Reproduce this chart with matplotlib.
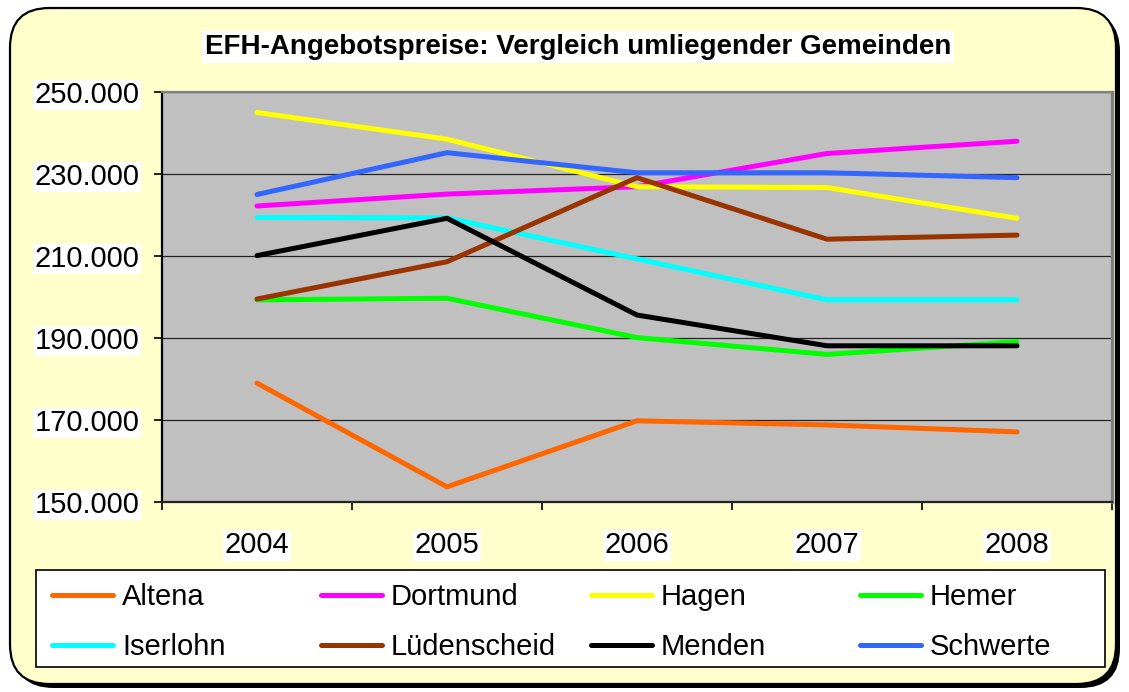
import matplotlib
matplotlib.use("Agg")
import matplotlib.pyplot as plt
from matplotlib.patches import FancyBboxPatch, Rectangle

plt.rcParams["font.family"] = ["Liberation Sans", "DejaVu Sans"]

YEARS = ["2004", "2005", "2006", "2007", "2008"]
TITLE = "EFH-Angebotspreise: Vergleich umliegender Gemeinden"

# Angebotspreise in Euro
altena = [179000, 153700, 169800, 168800, 167100]
dortmund = [222200, 225100, 226900, 235000, 238000]
hagen = [245000, 238500, 226900, 226700, 219200]
hemer = [199300, 199700, 190100, 186000, 189100]
iserlohn = [219400, 219300, 209300, 199300, 199300]
luedenscheid = [199500, 208600, 229100, 214100, 215100]
menden = [210100, 219200, 195600, 188100, 188100]
schwerte = [225000, 235200, 230300, 230300, 229100]

SERIES = [
    ("Altena", altena, "#FF6600"),
    ("Dortmund", dortmund, "#FF00FF"),
    ("Hagen", hagen, "#FFFF00"),
    ("Hemer", hemer, "#00FF00"),
    ("Iserlohn", iserlohn, "#00FFFF"),
    ("Lüdenscheid", luedenscheid, "#993300"),
    ("Menden", menden, "#000000"),
    ("Schwerte", schwerte, "#3366FF"),
]

Y_TICKS = [150000, 170000, 190000, 210000, 230000, 250000]

W, H = 1129, 692


def main():
    fig = plt.figure(figsize=(W / 100, H / 100), dpi=100, facecolor="white")

    # rounded chart frame with a drop shadow
    shadow = FancyBboxPatch((14 / W, 4 / H), 1106 / W, 676 / H,
                            boxstyle="round,pad=0,rounding_size=0.035",
                            transform=fig.transFigure, facecolor="black",
                            edgecolor="black", lw=0, mutation_aspect=W / H,
                            zorder=-3)
    frame = FancyBboxPatch((10 / W, 8 / H), 1106 / W, 676 / H,
                           boxstyle="round,pad=0,rounding_size=0.035",
                           transform=fig.transFigure, facecolor="#FFFFCC",
                           edgecolor="black", lw=1.6, mutation_aspect=W / H,
                           zorder=-2)
    fig.patches.extend([shadow, frame])

    ax = fig.add_axes([162 / W, 190 / H, 950 / W, 410 / H])
    ax.set_facecolor("#C0C0C0")

    x = range(len(YEARS))
    handles = []
    for name, vals, color in SERIES:
        (ln,) = ax.plot(x, vals, color=color, lw=3.6, label=name,
                        solid_capstyle="round", solid_joinstyle="round", zorder=3)
        handles.append(ln)

    ax.set_xlim(-0.5, len(YEARS) - 0.5)
    ax.set_ylim(Y_TICKS[0], Y_TICKS[-1])

    ax.set_yticks(Y_TICKS)
    ax.set_yticklabels([f"{v:,}".replace(",", ".") for v in Y_TICKS])
    ax.yaxis.grid(True, color="#222222", lw=0.9, zorder=1)
    ax.set_axisbelow(True)

    ax.set_xticks([i - 0.5 for i in range(len(YEARS) + 1)])
    ax.set_xticklabels([])
    ax.set_xticks(list(x), minor=True)
    ax.set_xticklabels(YEARS, minor=True)
    ax.tick_params(axis="x", which="minor", length=0, pad=21, labelsize=21)
    ax.tick_params(axis="x", which="major", length=6, width=1.2, direction="out")
    ax.tick_params(axis="y", length=6, width=1.2, pad=10, labelsize=21)

    for lab in ax.get_yticklabels() + ax.get_xticklabels(minor=True):
        lab.set_bbox(dict(facecolor="white", edgecolor="none", pad=1))

    ax.spines["left"].set_color("black")
    ax.spines["left"].set_linewidth(1.6)
    ax.spines["bottom"].set_color("#222222")
    ax.spines["bottom"].set_linewidth(1.6)
    ax.spines["top"].set_color("#808080")
    ax.spines["top"].set_linewidth(1.6)
    ax.spines["right"].set_color("#808080")
    ax.spines["right"].set_linewidth(2.4)

    fig.text(578 / W, 1 - 47 / H, TITLE, ha="center", va="center",
             fontsize=20, fontweight="bold",
             bbox=dict(facecolor="white", edgecolor="none", pad=2))

    # legend box: white frame with four evenly spaced columns, filled row-wise
    fig.patches.append(Rectangle((36 / W, 25 / H), 1069 / W, 97 / H,
                                 transform=fig.transFigure, facecolor="white",
                                 edgecolor="black", lw=1.2, zorder=-1))
    col_x = [52, 321, 591, 860]
    for c, cx in enumerate(col_x):
        hs = [handles[c], handles[c + 4]]
        fig.legend(hs, [h.get_label() for h in hs], loc="center left",
                   bbox_to_anchor=(cx / W, 1 - 622 / H), ncol=1,
                   fontsize=21, frameon=False, handlelength=2.1,
                   handletextpad=0.3, borderpad=0, labelspacing=0.76,
                   borderaxespad=0)

    fig.savefig("out.png", dpi=100, facecolor="white")


if __name__ == "__main__":
    main()
